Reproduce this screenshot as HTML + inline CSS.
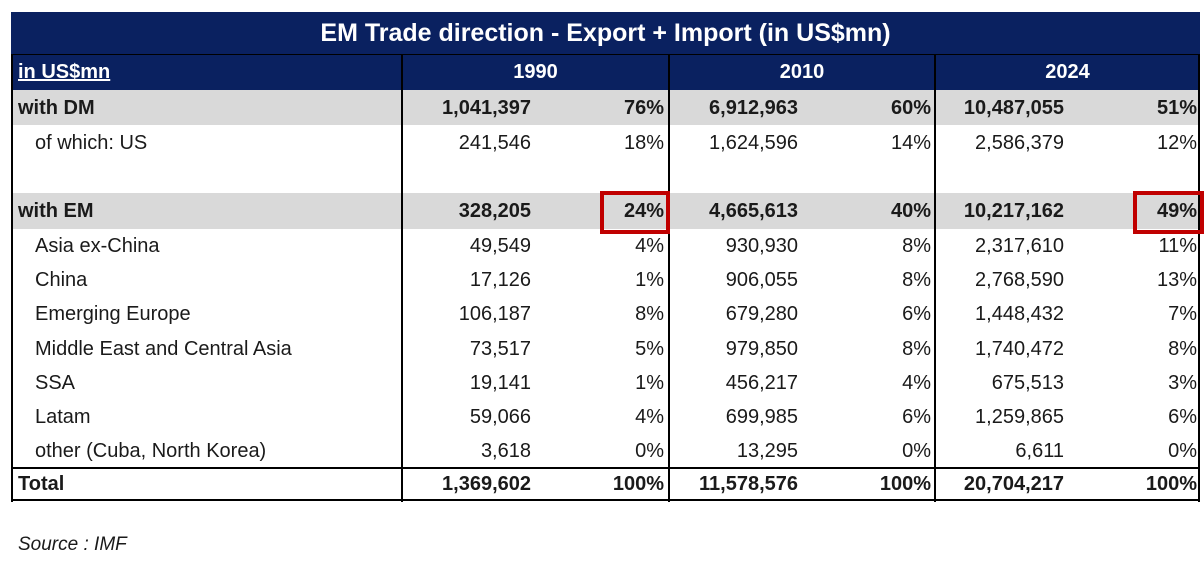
<!DOCTYPE html>
<html><head><meta charset="utf-8">
<style>
body{margin:0;width:1204px;height:564px;background:#fff;position:relative;overflow:hidden;font-family:"Liberation Sans",sans-serif;color:#1a1a1a}
.a{position:absolute}
.t{position:absolute;font-size:20px;line-height:34px;white-space:nowrap}
.r{text-align:right}
.b{font-weight:bold}
</style></head><body>
<div class="a" style="left:11px;top:12px;width:1189px;height:42px;background:#0a2160"></div>
<div class="a" style="left:11px;top:12px;width:1189px;height:42px;line-height:42px;text-align:center;color:#fff;font-weight:bold;font-size:25px">EM Trade direction - Export + Import (in US$mn)</div>
<div class="a" style="left:11px;top:54px;width:1189px;height:36px;background:#0a2160;border-top:1px solid #000"></div>
<div class="t b" style="left:18px;top:55px;color:#fff;text-decoration:underline">in US$mn</div>
<div class="t b" style="left:402px;width:267px;top:55px;text-align:center;color:#fff">1990</div>
<div class="t b" style="left:669px;width:266px;top:55px;text-align:center;color:#fff">2010</div>
<div class="t b" style="left:935px;width:265px;top:55px;text-align:center;color:#fff">2024</div>
<div id="body"></div>
<div class="t" style="left:18px;top:528px;font-style:italic;font-size:19px">Source : IMF</div>
<script>
const labels=["with DM","of which: US","","with EM","Asia ex-China","China","Emerging Europe","Middle East and Central Asia","SSA","Latam","other (Cuba, North Korea)","Total"];
const v1990=["1,041,397","241,546","","328,205","49,549","17,126","106,187","73,517","19,141","59,066","3,618","1,369,602"];
const p1990=["76%","18%","","24%","4%","1%","8%","5%","1%","4%","0%","100%"];
const v2010=["6,912,963","1,624,596","","4,665,613","930,930","906,055","679,280","979,850","456,217","699,985","13,295","11,578,576"];
const p2010=["60%","14%","","40%","8%","8%","6%","8%","4%","6%","0%","100%"];
const v2024=["10,487,055","2,586,379","","10,217,162","2,317,610","2,768,590","1,448,432","1,740,472","675,513","1,259,865","6,611","20,704,217"];
const p2024=["51%","12%","","49%","11%","13%","7%","8%","3%","6%","0%","100%"];
const tops=[90,125,160,193,229,263,297,331,366,400,434,468];
const heights=[35,35,33,36,34,34,34,35,34,34,34,32];
const bold=[true,false,false,true,false,false,false,false,false,false,false,true];
const gray=[true,false,false,true,false,false,false,false,false,false,false,false];
const body=document.getElementById('body');
function add(cls,text,style){const d=document.createElement('div');d.className=cls;d.textContent=text;d.style.cssText=style;body.appendChild(d);return d;}
labels.forEach((l,i)=>{
  const y=tops[i],h=heights[i],b=bold[i]?' b':'';
  if(gray[i]){const g=add('a','', `left:12px;top:${y}px;width:1187px;height:${h}px;background:#d9d9d9`);
    
    }
  const ty=y+(h-34)/2;
  const lx=(bold[i])?18:35;
  const c=add('t'+b,l,`left:${lx}px;top:${ty}px`);
  
  
  const cols=[[v1990[i],531],[p1990[i],664],[v2010[i],798],[p2010[i],931],[v2024[i],1064],[p2024[i],1197]];
  cols.forEach(([t,r])=>{const e=add('t r'+b,t,`left:${r-200}px;width:200px;top:${ty}px`);
    
    });
});
const borders=[["table-left-border","left:11px;top:54px;width:2px;height:448px;background:#000"],
["table-right-border","left:1198px;top:54px;width:2px;height:448px;background:#000"],
["divider-1990","left:401px;top:54px;width:2px;height:448px;background:#000"],
["divider-2010","left:668px;top:54px;width:2px;height:448px;background:#000"],
["divider-2024","left:934px;top:54px;width:2px;height:448px;background:#000"],
["total-top-border","left:11px;top:467px;width:1189px;height:2px;background:#000"],
["table-bottom-border","left:11px;top:499px;width:1189px;height:2px;background:#000"],
["highlight-box-1990","left:600px;top:191px;width:62px;height:35px;border:4px solid #c00000"],
["highlight-box-2024","left:1133px;top:191px;width:63px;height:35px;border:4px solid #c00000"]];
borders.forEach(([n,s])=>{const d=add('a','',s);
  
  });
</script>
</body></html>
